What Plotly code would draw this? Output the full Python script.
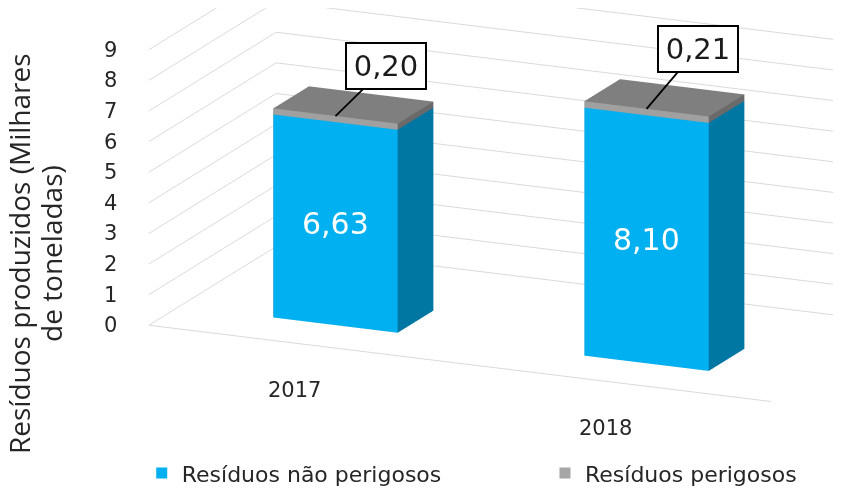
import plotly.graph_objects as go

# ---- data ----
years = ["2017", "2018"]
nao_perigosos = [6.63, 8.10]
perigosos = [0.20, 0.21]
labels_nao = ["6,63", "8,10"]
labels_per = ["0,20", "0,21"]
z_ticks = list(range(0, 10))
z_ticktext = [str(t) for t in z_ticks]
series_names = ["Resíduos não perigosos", "Resíduos perigosos"]

# ---- style ----
BAR_W = 0.4
BAR_D = 0.23
BAR_Y0 = -0.21
Y_HALF = 0.41
COL_NAO = dict(front="#00B0F0", side="#0076A3", top="#0096CC")
COL_PER = dict(front="#A0A0A0", side="#6A6A6A", top="#7F7F7F")
FONT = "DejaVu Sans"
TXT = "#262626"


def box(xc, z0, z1, cols, name):
    x0, x1 = xc - BAR_W / 2, xc + BAR_W / 2
    y0, y1 = BAR_Y0, BAR_Y0 + BAR_D
    vx = [x0, x1, x1, x0, x0, x1, x1, x0]
    vy = [y0, y0, y1, y1, y0, y0, y1, y1]
    vz = [z0, z0, z0, z0, z1, z1, z1, z1]
    faces = [
        ((0, 1, 5), cols["front"]), ((0, 5, 4), cols["front"]),
        ((1, 2, 6), cols["side"]), ((1, 6, 5), cols["side"]),
        ((4, 5, 6), cols["top"]), ((4, 6, 7), cols["top"]),
        ((3, 2, 6), cols["side"]), ((3, 6, 7), cols["side"]),
        ((0, 3, 7), cols["side"]), ((0, 7, 4), cols["side"]),
        ((0, 1, 2), cols["side"]), ((0, 2, 3), cols["side"]),
    ]
    return go.Mesh3d(
        x=vx, y=vy, z=vz,
        i=[f[0][0] for f in faces], j=[f[0][1] for f in faces], k=[f[0][2] for f in faces],
        facecolor=[f[1] for f in faces], flatshading=True,
        lighting=dict(ambient=1.0, diffuse=0.0, specular=0.0, roughness=1.0, fresnel=0.0),
        hoverinfo="skip", showlegend=False, name=name,
    )


fig = go.Figure()
for i, yr in enumerate(years):
    fig.add_trace(box(i, 0, nao_perigosos[i], COL_NAO, series_names[0]))
    fig.add_trace(box(i, nao_perigosos[i], nao_perigosos[i] + perigosos[i], COL_PER, series_names[1]))

fig.add_trace(go.Scatter(x=[None], y=[None], mode="markers", name=series_names[0], legend="legend",
                         showlegend=True, marker=dict(symbol="square", size=11, color="#00B0F0")))
fig.add_trace(go.Scatter(x=[None], y=[None], mode="markers", name=series_names[1], legend="legend2",
                         showlegend=True, marker=dict(symbol="square", size=11, color="#A5A5A5")))

scene_ann = []
for t, tt in zip(z_ticks, z_ticktext):
    scene_ann.append(dict(x=-0.5, y=-Y_HALF, z=t, text=tt, showarrow=False, xanchor="right",
                          xshift=-30, font=dict(family=FONT, size=21, color=TXT)))
for i, yr in enumerate(years):
    scene_ann.append(dict(x=i, y=-Y_HALF, z=0, text=yr, showarrow=False, xshift=-10, yshift=-46,
                          font=dict(family=FONT, size=21, color=TXT)))
for i, yr in enumerate(years):
    scene_ann.append(dict(x=i, y=BAR_Y0, z=nao_perigosos[i] / 2, text=labels_nao[i],
                          showarrow=False, font=dict(family=FONT, size=30, color="white")))
offs = [(51, -50), (51, -60)]
for i, yr in enumerate(years):
    scene_ann.append(dict(x=i, y=BAR_Y0, z=nao_perigosos[i] + perigosos[i], text=labels_per[i],
                          showarrow=True, arrowhead=0, arrowwidth=1.8, arrowcolor="black",
                          ax=offs[i][0], ay=offs[i][1], bgcolor="white", bordercolor="black",
                          borderwidth=2, borderpad=3, width=72, height=38,
                          font=dict(family=FONT, size=29, color="#1a1a1a")))

axis_common = dict(showbackground=False, zeroline=False, showspikes=False, title=dict(text=""),
                   ticks="")
cen = dict(x=-0.317, y=-0.227, z=-0.273)
eye_off = dict(x=0.782, y=-1.756, z=0.551)
fig.update_layout(
    width=841, height=498,
    margin=dict(l=0, r=0, t=0, b=0),
    paper_bgcolor="white", plot_bgcolor="white",
    showlegend=True,
    xaxis=dict(visible=False), yaxis=dict(visible=False),
    scene=dict(
        domain=dict(x=[0.0, 1.0], y=[0.0, 1.0]),
        xaxis=dict(range=[-0.5, 1.5], tickvals=[0, 1], showticklabels=False, showgrid=False,
                   showline=True, linecolor="#D9D9D9", linewidth=2, **axis_common),
        yaxis=dict(range=[-Y_HALF, Y_HALF], showticklabels=False, showgrid=False,
                   showline=False, **axis_common),
        zaxis=dict(range=[0, 9], tickvals=z_ticks, showticklabels=False, showgrid=True,
                   gridcolor="#D9D9D9", gridwidth=2, showline=False, **axis_common),
        aspectmode="manual", aspectratio=dict(x=2.735, y=1.256, z=1.151),
        camera=dict(eye=dict(x=eye_off["x"] + cen["x"], y=eye_off["y"] + cen["y"],
                             z=eye_off["z"] + cen["z"]),
                    center=cen, up=dict(x=0, y=0, z=1),
                    projection=dict(type="orthographic")),
        annotations=scene_ann,
    ),
    legend=dict(orientation="h", x=0.159, y=0.066, xanchor="left", yanchor="middle",
                font=dict(family=FONT, size=22, color=TXT), itemwidth=30,
                bgcolor="rgba(0,0,0,0)"),
    legend2=dict(orientation="h", x=0.6385, y=0.066, xanchor="left", yanchor="middle",
                 font=dict(family=FONT, size=22, color=TXT), itemwidth=30,
                 bgcolor="rgba(0,0,0,0)"),
    annotations=[
        dict(xref="paper", yref="paper", x=11 / 841, y=1 - 246 / 498, textangle=-90,
             xanchor="center", yanchor="middle",
             text="Resíduos produzidos (Milhares", showarrow=False,
             font=dict(family="Open Sans", size=28, color=TXT)),
        dict(xref="paper", yref="paper", x=43 / 841, y=1 - 246 / 498, textangle=-90,
             xanchor="center", yanchor="middle",
             text="de toneladas)", showarrow=False,
             font=dict(family="Open Sans", size=28, color=TXT)),
    ],
)
fig.write_html("out.html")
